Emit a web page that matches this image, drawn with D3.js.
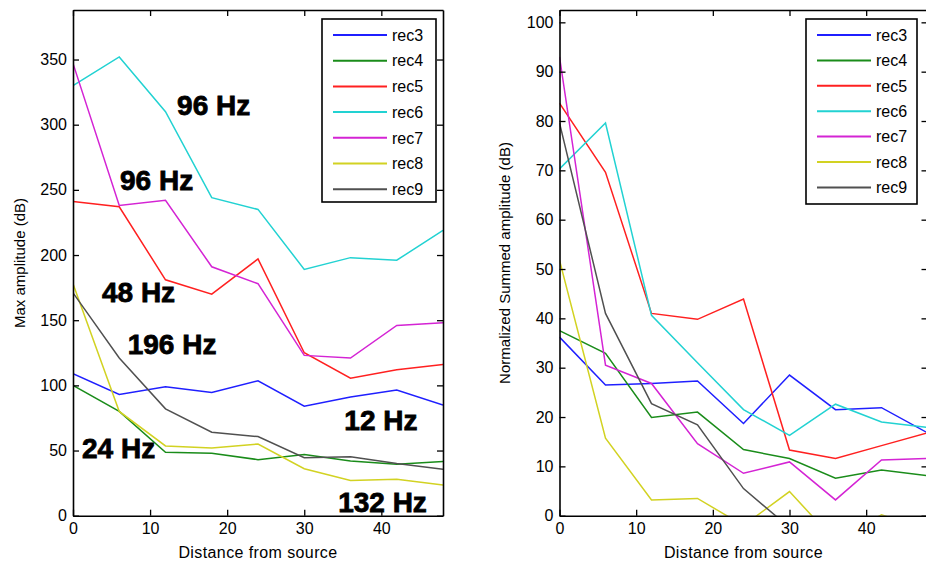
<!DOCTYPE html>
<html>
<head>
<meta charset="utf-8">
<script src="https://cdn.jsdelivr.net/npm/d3@7"></script>
<style>
  body { margin: 0; background: #fff; }
  svg { display: block; }
  text { font-family: "Liberation Sans", Arial, sans-serif; fill: #000; }
</style>
</head>
<body>
<div id="chart"></div>
<script>
// distance steps shared by both panels
const distance = [0, 6, 12, 18, 24, 30, 36, 42, 48];
const recNames = ["rec3", "rec4", "rec5", "rec6", "rec7", "rec8", "rec9"];
const recColors = ["#1f1fff", "#1a8c1a", "#ff2020", "#22d2d2", "#d424d4", "#d2d222", "#505050"];

// left panel: max amplitude
const maxRec3 = [109, 93, 99, 94.5, 103.5, 84, 91, 96.5, 85];
const maxRec4 = [100, 80, 48.7, 48, 43, 47, 42, 39.5, 41.5];
const maxRec5 = [241, 237, 181, 170, 197, 125, 105.5, 112, 116];
const maxRec6 = [330, 352, 310, 244, 235, 189, 198, 196, 219];
const maxRec7 = [347, 238, 242, 191, 178, 123, 121, 146, 148];
const maxRec8 = [178, 80, 53.5, 52, 55, 36, 27, 28, 23.5];
const maxRec9 = [171, 121, 82, 64, 60.7, 44.5, 45.3, 40, 35.6];

// right panel: normalized summed amplitude
const sumRec3 = [36.2, 26.5, 26.8, 27.3, 18.7, 28.5, 21.5, 21.9, 16.8];
const sumRec4 = [37.5, 32.9, 19.9, 21, 13.4, 11.6, 7.6, 9.25, 8.1];
const sumRec5 = [83.6, 69.6, 41, 39.8, 43.9, 13.3, 11.6, 14.2, 16.8];
const sumRec6 = [70.3, 79.6, 40.6, 31, 21.5, 16.3, 22.6, 19, 17.9];
const sumRec7 = [93, 30.5, 26.8, 14.6, 8.6, 10.9, 3.2, 11.3, 11.6];
const sumRec8 = [51.8, 15.7, 3.2, 3.5, -2, 4.9, -5.2, 0.2, -3];
const sumRec9 = [79.6, 41, 22.7, 18.4, 5.5, -2.4, -6, -8, -10];

const xTicks = [0, 10, 20, 30, 40];
const maxTicks = [0, 50, 100, 150, 200, 250, 300, 350];
const sumTicks = [0, 10, 20, 30, 40, 50, 60, 70, 80, 90, 100];

// frequency notes on the left panel, anchored in data units
const noteText = ["96 Hz", "96 Hz", "48 Hz", "196 Hz", "12 Hz", "24 Hz", "132 Hz"];
const noteDist = [13.5, 6.1, 3.76, 7.1, 35.2, 1.17, 34.4];
const noteAmp = [307.6, 250, 164, 124, 66, 44.5, 3];

const W = 926, H = 563;
const svg = d3.select("#chart").append("svg")
    .attr("width", W)
    .attr("height", H);

function drawPanel(cfg) {
    const x = d3.scaleLinear().domain([0, 48]).range([cfg.left, cfg.right]);
    const y = d3.scaleLinear().domain([0, cfg.yMax]).range([515.7, 10]);
    const g = svg.append("g");

    const clipId = "clip-" + cfg.id;
    g.append("clipPath").attr("id", clipId)
        .append("rect")
        .attr("x", cfg.left).attr("y", 10)
        .attr("width", cfg.right - cfg.left).attr("height", 505.7);

    g.append("rect")
        .attr("x", cfg.left).attr("y", 10)
        .attr("width", cfg.right - cfg.left).attr("height", 505.7)
        .attr("fill", "#fff");

    const line = d3.line()
        .x((d, i) => x(distance[i]))
        .y(d => y(d));

    const lines = g.append("g").attr("clip-path", `url(#${clipId})`);
    cfg.series.forEach((vals, i) => {
        lines.append("path")
            .attr("d", line(vals))
            .attr("fill", "none")
            .attr("stroke", recColors[i])
            .attr("stroke-width", 1.5);
    });

    // axes with inward ticks, box on all sides
    const bottom = g.append("g")
        .attr("transform", "translate(0,515.7)")
        .call(d3.axisBottom(x).tickValues(xTicks).tickSizeInner(-6).tickSizeOuter(0).tickPadding(7));
    const leftAx = g.append("g")
        .attr("transform", `translate(${cfg.left},0)`)
        .call(d3.axisLeft(y).tickValues(cfg.yTicks).tickSizeInner(-6).tickSizeOuter(0).tickPadding(6));
    g.append("g")
        .attr("transform", "translate(0,10)")
        .call(d3.axisTop(x).tickValues(xTicks).tickSizeInner(-6).tickSizeOuter(0).tickFormat(""));
    g.append("g")
        .attr("transform", `translate(${cfg.right},0)`)
        .call(d3.axisRight(y).tickValues(cfg.yTicks).tickSizeInner(-6).tickSizeOuter(0).tickFormat(""));

    g.selectAll(".domain").attr("stroke", "#000").attr("stroke-width", 1.6);
    g.selectAll(".tick line").attr("stroke", "#000").attr("stroke-width", 1.3);
    [bottom, leftAx].forEach(a => a.selectAll("text")
        .attr("font-size", "16px")
        .attr("font-family", "Liberation Sans, Arial, sans-serif")
        .attr("fill", "#000"));

    g.append("text")
        .attr("x", (cfg.left + cfg.right) / 2)
        .attr("y", 558)
        .attr("text-anchor", "middle")
        .attr("font-size", "16px")
        .attr("letter-spacing", "0.4px")
        .text("Distance from source");

    g.append("text")
        .attr("transform", `translate(${cfg.ylabelX},263) rotate(-90)`)
        .attr("text-anchor", "middle")
        .attr("font-size", "15px")
        .text(cfg.ylabel);

    // legend
    const lg = cfg.legend;
    g.append("rect")
        .attr("x", lg.x).attr("y", lg.y)
        .attr("width", lg.w).attr("height", lg.h)
        .attr("fill", "#fff")
        .attr("stroke", "#000")
        .attr("stroke-width", 1.6);
    recNames.forEach((name, i) => {
        const ry = lg.y + 16 + i * lg.step;
        g.append("line")
            .attr("x1", lg.x + 11).attr("x2", lg.x + 65)
            .attr("y1", ry).attr("y2", ry)
            .attr("stroke", recColors[i])
            .attr("stroke-width", 2);
        g.append("text")
            .attr("x", lg.x + 70).attr("y", ry)
            .attr("dy", "0.36em")
            .attr("font-size", "16px")
            .text(name);
    });

    return { x, y, g };
}

const leftPanel = drawPanel({
    id: "max", left: 73, right: 443, yMax: 388,
    yTicks: maxTicks, ylabel: "Max amplitude (dB)", ylabelX: 25,
    series: [maxRec3, maxRec4, maxRec5, maxRec6, maxRec7, maxRec8, maxRec9],
    legend: { x: 322, y: 19, w: 114, h: 183, step: 25.7 }
});

drawPanel({
    id: "sum", left: 559.5, right: 927.5, yMax: 102.5,
    yTicks: sumTicks, ylabel: "Normalized Summed amplitude (dB)", ylabelX: 510,
    series: [sumRec3, sumRec4, sumRec5, sumRec6, sumRec7, sumRec8, sumRec9],
    legend: { x: 806, y: 19, w: 111, h: 185, step: 25.4 }
});

noteText.forEach((t, i) => {
    leftPanel.g.append("text")
        .attr("x", leftPanel.x(noteDist[i]))
        .attr("y", leftPanel.y(noteAmp[i]))
        .attr("font-size", "28px")
        .attr("font-weight", "bold")
        .attr("stroke", "#000")
        .attr("stroke-width", 0.8)
        .text(t);
});
</script>
</body>
</html>
